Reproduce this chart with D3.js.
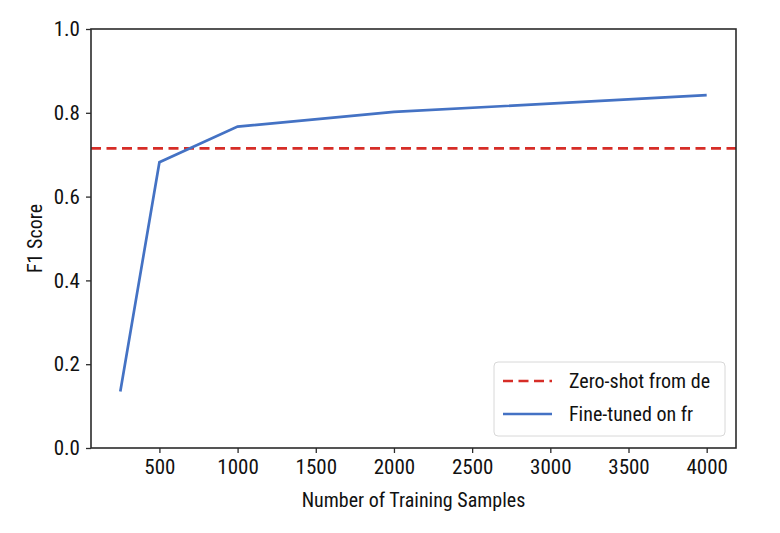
<!DOCTYPE html>
<html><head><meta charset="utf-8">
<script src="https://cdn.jsdelivr.net/npm/d3@7"></script>
<style>body{margin:0;background:#fff}text{font-family:"Roboto Condensed","DejaVu Sans Condensed",sans-serif;fill:#111}</style>
</head><body>
<svg id="c" width="780" height="533"></svg>
<script>
const samples = [250, 500, 1000, 2000, 4000];
const f1Scores = [0.135, 0.682, 0.767, 0.802, 0.842];
const zeroShot = 0.715;
const xTicks = [500, 1000, 1500, 2000, 2500, 3000, 3500, 4000];
const yTicks = [0, 0.2, 0.4, 0.6, 0.8, 1.0];
const legendLabels = ["Zero-shot from de", "Fine-tuned on fr"];

const FONT = '"Roboto Condensed","DejaVu Sans Condensed",sans-serif';
const svg = d3.select("#c");
const L = 91, R = 736, T = 29, B = 448;
const x = d3.scaleLinear().domain([62.5, 4187.5]).range([L, R]);
const y = d3.scaleLinear().domain([0, 1]).range([B, T]);
const axisColor = "#2b2b2b";
const fs = 20, tfs = 21;

// dashed zero-shot line
svg.append("line").attr("x1", L).attr("x2", R)
  .attr("y1", y(zeroShot)).attr("y2", y(zeroShot))
  .attr("stroke", "#d62d27").attr("stroke-width", 2.7).attr("stroke-dasharray", "10,5.5");

// fine-tuned line
const line = d3.line().x((d,i)=>x(samples[i])).y(d=>y(d));
svg.append("path").datum(f1Scores).attr("d", line)
  .attr("fill", "none").attr("stroke", "#4472c4").attr("stroke-width", 2.7);

// frame
svg.append("rect").attr("x", L).attr("y", T).attr("width", R-L).attr("height", B-T)
  .attr("fill", "none").attr("stroke", axisColor).attr("stroke-width", 1.6);

// axes
const gx = svg.append("g").attr("transform", `translate(0,${B})`)
  .call(d3.axisBottom(x).tickValues(xTicks).tickFormat(d3.format("d")).tickSize(5).tickPadding(6));
const gy = svg.append("g").attr("transform", `translate(${L},0)`)
  .call(d3.axisLeft(y).tickValues(yTicks).tickFormat(d3.format(".1f")).tickSize(5).tickPadding(6));
[gx, gy].forEach(g => {
  g.select(".domain").remove();
  g.selectAll(".tick line").attr("stroke", axisColor).attr("stroke-width", 1.3);
  g.selectAll(".tick text").attr("font-size", tfs).attr("fill", "#111").style("font-family", FONT);
});

// axis labels
svg.append("text").attr("x", (L+R)/2).attr("y", 507).attr("text-anchor", "middle")
  .attr("font-size", fs).text("Number of Training Samples");
svg.append("text").attr("transform", `translate(42,${(T+B)/2}) rotate(-90)`)
  .attr("text-anchor", "middle").attr("font-size", fs).text("F1 Score");

// legend
const lg = svg.append("g");
lg.append("rect").attr("x", 494).attr("y", 362).attr("width", 231).attr("height", 74)
  .attr("rx", 4).attr("fill", "#fff").attr("fill-opacity", 0.8).attr("stroke", "#d8d8d8").attr("stroke-width", 1);
const styles = [{c:"#d62d27", d:"10,5.5"}, {c:"#4472c4", d:null}];
legendLabels.forEach((lab, i) => {
  const yy = 381 + i*33;
  lg.append("line").attr("x1", 503).attr("x2", 552).attr("y1", yy).attr("y2", yy)
    .attr("stroke", styles[i].c).attr("stroke-width", 2.7).attr("stroke-dasharray", styles[i].d);
  lg.append("text").attr("x", 569).attr("y", yy).attr("dy", "0.35em").attr("font-size", fs).text(lab);
});
</script>
</body></html>
